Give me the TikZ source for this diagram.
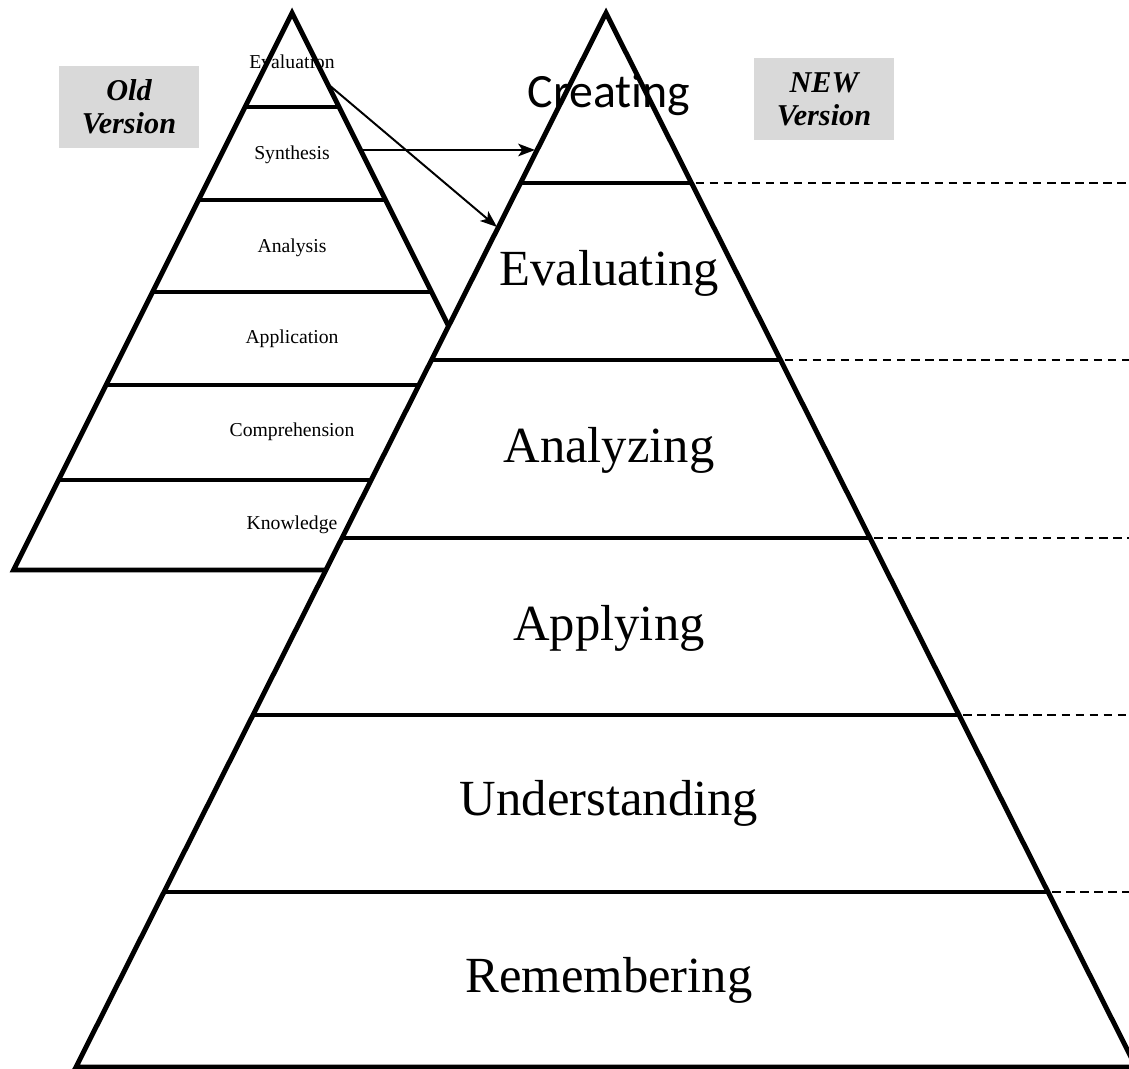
\documentclass[tikz,border=0pt]{standalone}
\usepackage{fontspec}
\setmainfont{Liberation Serif}
\newfontfamily\calibri[Ligatures=NoCommon]{Carlito}
\usetikzlibrary{arrows.meta}

\tikzset{
    level/.style={line width=3.5pt},
    guide/.style={line width=1.3pt, dash pattern=on 6pt off 4pt},
    oldlabel/.style={font=\fontsize{14}{16}\selectfont},
    newlabel/.style={font=\fontsize{36}{40}\selectfont},
    versionbox/.style={fill=black!15, minimum width=100pt, minimum height=59pt,
        align=center, font=\fontsize{21.5}{23.5}\selectfont\bfseries\itshape},
    link/.style={line width=1.4pt, -{Stealth[length=12pt,width=9pt,inset=3pt]}}
}

\begin{document}
\begin{tikzpicture}[x=0.025cm, y=-0.025cm]
        \useasboundingbox (0,0) rectangle (1129,1069);

        % old pyramid
        \draw[level, fill=white] (292,13) -- (570.5,570) -- (13.5,570) -- cycle;
        \foreach \y in {107,200,292,385,480} {
            \draw[level] ({292-0.5*(\y-13)},\y) -- ({292+0.5*(\y-13)},\y);
        }

        % new pyramid
        \draw[level, fill=white] (606,13) -- (1136,1067) -- (76,1067) -- cycle;
        \foreach \y in {183,360,538,715,892} {
            \draw[level] ({606-0.503*(\y-13)},\y) -- ({606+0.503*(\y-13)},\y);
            \draw[guide] ({606+0.503*(\y-13)+4},\y) -- (1129,\y);
        }

        % Labels
        \node[oldlabel] (evaluation) at (292,62) {Evaluation};
        \node[oldlabel] (synthesis) at (292,155) {Synthesis};
        \node[oldlabel] (analysis) at (292,248) {Analysis};
        \node[oldlabel] (application) at (292,339) {Application};
        \node[oldlabel] (comprehension) at (292,432) {Comprehension};
        \node[oldlabel] (knowledge) at (292,525) {Knowledge};

        \node[newlabel, font=\calibri\fontsize{34}{40}\selectfont] (creating) at (609,95) {Creating};
        \node[newlabel] (evaluating) at (609,273) {Evaluating};
        \node[newlabel] (analyzing) at (609,450) {Analyzing};
        \node[newlabel] (applying) at (609,628) {Applying};
        \node[newlabel] (understanding) at (609,803) {Understanding};
        \node[newlabel] (remembering) at (609,980) {Remembering};

        \node[versionbox] (oldbox) at (129,107) {Old\\Version};
        \node[versionbox] (newbox) at (824,99) {NEW\\Version};

        % links
        \coordinate (evalout) at (329,85);
        \coordinate (evalin) at (497,227);
        \coordinate (synout) at (361,150);
        \coordinate (synin) at (535,150);
        \draw[link] (evalout) -- (evalin);
        \draw[link] (synout) -- (synin);
    \end{tikzpicture}
\end{document}
